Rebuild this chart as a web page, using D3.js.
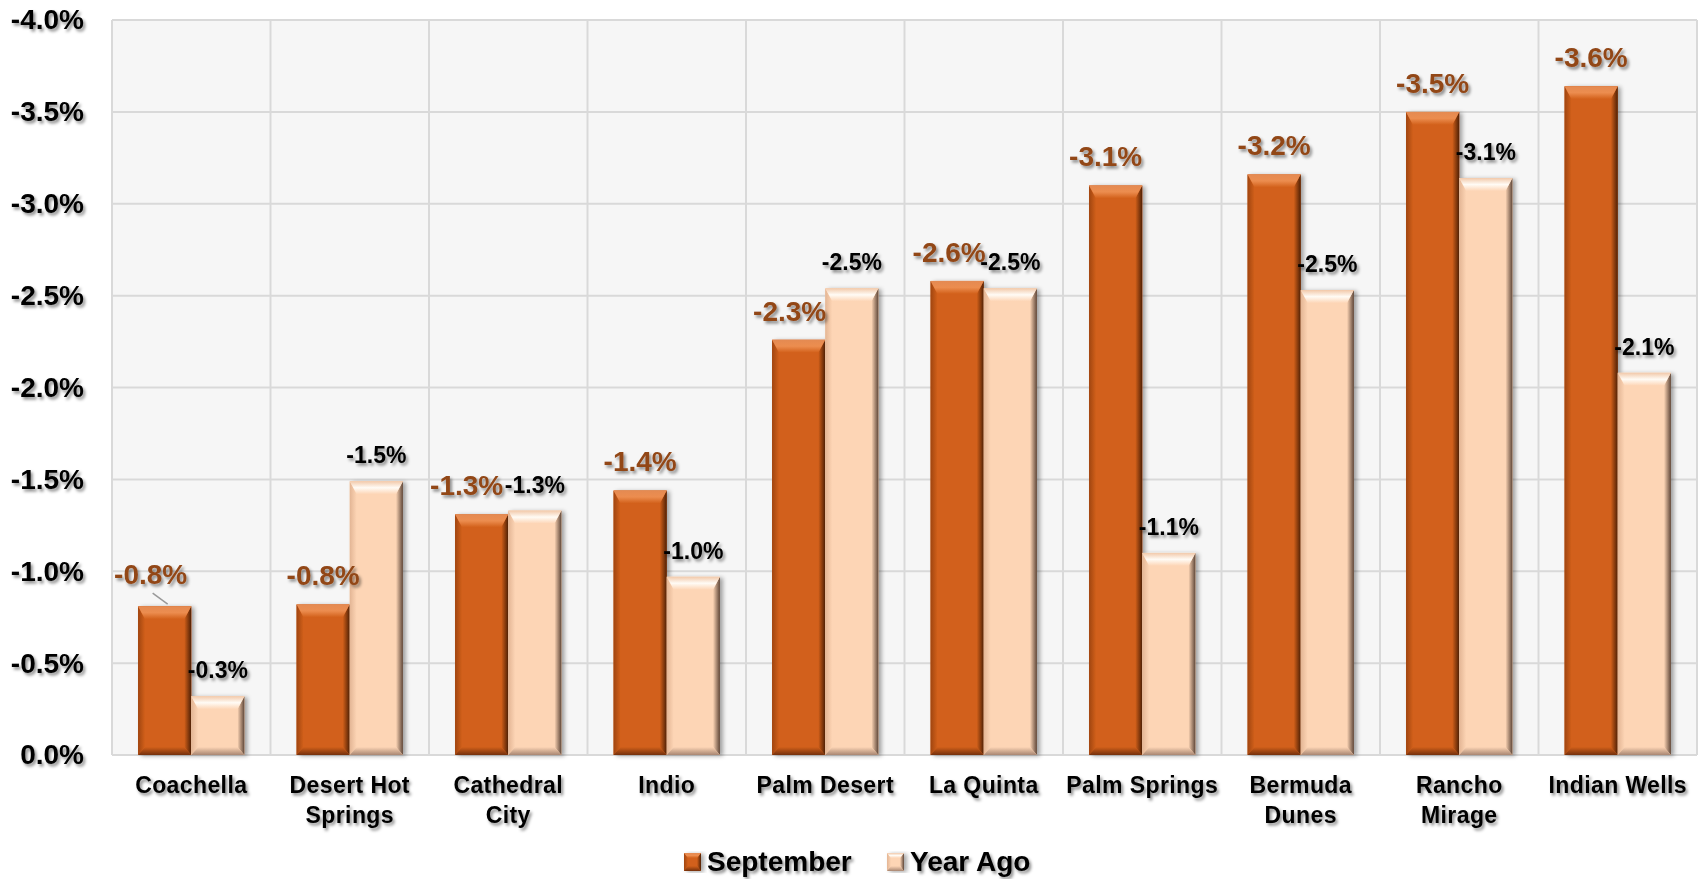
<!DOCTYPE html>
<html lang="en">
<head>
  <meta charset="UTF-8">
  <title>September vs Year Ago</title>
  <style>
    body {
      margin: 0;
      background: #fff;
      overflow: hidden;
    }
    text {
      font-family: "Liberation Sans", Arial, sans-serif;
      font-weight: bold;
    }
  </style>
</head>
<body>
  <script src="https://d3js.org/d3.v7.min.js"></script>
  <script>
    // data
    const categories = ['Coachella', 'Desert Hot Springs', 'Cathedral City', 'Indio', 'Palm Desert',
      'La Quinta', 'Palm Springs', 'Bermuda Dunes', 'Rancho Mirage', 'Indian Wells'];
    const tickLines = [['Coachella'], ['Desert Hot', 'Springs'], ['Cathedral', 'City'], ['Indio'], ['Palm Desert'],
      ['La Quinta'], ['Palm Springs'], ['Bermuda', 'Dunes'], ['Rancho', 'Mirage'], ['Indian Wells']];
    const series = ['September', 'Year Ago'];
    const september = [-0.0081, -0.0082, -0.0131, -0.0144, -0.0226, -0.0258, -0.0310, -0.0316, -0.0350, -0.0364];
    const yearAgo = [-0.0032, -0.0149, -0.0133, -0.0097, -0.0254, -0.0254, -0.0110, -0.0253, -0.0314, -0.0208];
    const yTicks = [0, -0.005, -0.01, -0.015, -0.02, -0.025, -0.03, -0.035, -0.04];

    // label nudges (Excel moved a few labels to avoid overlaps)
    const sepNudge = { 'Coachella': [-14, -3], 'Cathedral City': [-15, 0], 'Palm Desert': [-9, 0], 'La Quinta': [-8, 0], 'Palm Springs': [-10, 0] };
    const leaderFor = ['Coachella'];

    const width = 1701, height = 879;
    const plot = { left: 112, right: 1697, top: 20, bottom: 755 };

    const fmt = d3.formatLocale({ decimal: '.', thousands: ',', grouping: [3], currency: ['$', ''], minus: '-' }).format('.1%');

    const x0 = d3.scaleBand().domain(categories).range([plot.left, plot.right]);
    const x1 = d3.scaleBand().domain(series).range([0, x0.bandwidth()]).paddingInner(0).paddingOuter(0.49);
    const y = d3.scaleLinear().domain([0, -0.04]).range([plot.bottom, plot.top]);

    const palettes = {
      'September': { base: '#d2601a', edge: '#e48a52', hi: '#ec8d4f', right: '#4f2005', bottom: '#74300c', left: '#a04510', label: '#924719', size: 28 },
      'Year Ago': { base: '#fdd5b5', edge: '#f2c9aa', hi: '#fffbf5', right: '#5e4638', bottom: '#a88672', left: '#e3b594', label: '#000', size: 23 }
    };

    const svg = d3.select('body').append('svg')
      .attr('width', width)
      .attr('height', height);

    const defs = svg.append('defs');

    const tshadow = defs.append('filter').attr('id', 'tshadow')
      .attr('x', '-10%').attr('y', '-30%').attr('width', '130%').attr('height', '170%');
    tshadow.append('feDropShadow').attr('dx', 2).attr('dy', 2.5).attr('stdDeviation', 1.4)
      .attr('flood-color', '#000').attr('flood-opacity', 0.45);

    const bshadow = defs.append('filter').attr('id', 'bshadow')
      .attr('x', '-20%').attr('y', '-10%').attr('width', '150%').attr('height', '120%');
    bshadow.append('feDropShadow').attr('dx', 3).attr('dy', 1).attr('stdDeviation', 2)
      .attr('flood-color', '#000').attr('flood-opacity', 0.35);

    function grad(id, x2, y2, stops) {
      const g = defs.append('linearGradient').attr('id', id)
        .attr('x1', 0).attr('y1', 0).attr('x2', x2).attr('y2', y2);
      stops.forEach(s => g.append('stop').attr('offset', s[0]).attr('stop-color', s[1]));
    }

    series.forEach((s, i) => {
      const p = palettes[s];
      grad('top' + i, 0, 1, [[0, p.edge], [0.5, p.hi], [1, p.base]]);
      grad('right' + i, 1, 0, [[0, p.base], [1, p.right]]);
      grad('bottom' + i, 0, 1, [[0, p.base], [1, p.bottom]]);
      grad('left' + i, 1, 0, [[0, p.left], [1, p.base]]);
    });

    // plot area
    svg.append('rect')
      .attr('x', plot.left).attr('y', plot.top)
      .attr('width', plot.right - plot.left).attr('height', plot.bottom - plot.top)
      .attr('fill', '#f6f6f6');

    const grid = svg.append('g').attr('stroke', '#d9d9d9').attr('stroke-width', 2);
    grid.selectAll('.h').data(yTicks).enter().append('line')
      .attr('x1', plot.left).attr('x2', plot.right)
      .attr('y1', d => y(d)).attr('y2', d => y(d));
    grid.selectAll('.v').data(categories.map(c => x0(c)).concat([plot.right])).enter().append('line')
      .attr('x1', d => d).attr('x2', d => d)
      .attr('y1', plot.top).attr('y2', plot.bottom);

    // y axis
    const yAxis = svg.append('g')
      .attr('transform', `translate(${plot.left},0)`)
      .call(d3.axisLeft(y).tickValues(yTicks).tickFormat(fmt).tickSize(0).tickPadding(28));
    yAxis.select('.domain').remove();
    yAxis.selectAll('text')
      .attr('font-size', 28)
      .attr('font-family', '"Liberation Sans", Arial, sans-serif')
      .attr('font-weight', 'bold')
      .attr('fill', '#000')
      .attr('filter', 'url(#tshadow)');

    // x axis
    const xAxis = svg.append('g')
      .attr('transform', `translate(0,${plot.bottom})`)
      .call(d3.axisBottom(x0).tickSize(0));
    xAxis.select('.domain').remove();
    xAxis.selectAll('text').each(function (d) {
      const t = d3.select(this).text(null)
        .attr('y', 38).attr('dy', 0)
        .attr('font-size', 23)
        .attr('letter-spacing', 0.4)
        .attr('font-family', '"Liberation Sans", Arial, sans-serif')
        .attr('font-weight', 'bold')
        .attr('fill', '#000')
        .attr('filter', 'url(#tshadow)');
      tickLines[categories.indexOf(d)].forEach((line, k) => {
        t.append('tspan').attr('x', 0).attr('dy', k === 0 ? 0 : 30).text(line);
      });
    });

    // bevelled bar
    function bevelBar(g, bx, by, bw, bh, i, side, depth) {
      const s = Math.min(side, bw / 4);
      const t = Math.min(depth, bh / 2.5);
      const b = Math.min(side + 1, bh / 3);
      g.append('rect').attr('x', bx).attr('y', by).attr('width', bw).attr('height', bh)
        .attr('fill', palettes[series[i]].base).attr('filter', 'url(#bshadow)');
      const poly = (pts, fill) => g.append('polygon')
        .attr('points', pts.map(p => p.join(',')).join(' ')).attr('fill', fill);
      poly([[bx, by], [bx + s, by + t], [bx + s, by + bh - b], [bx, by + bh]], `url(#left${i})`);
      poly([[bx + bw, by], [bx + bw, by + bh], [bx + bw - s, by + bh - b], [bx + bw - s, by + t]], `url(#right${i})`);
      poly([[bx, by + bh], [bx + s, by + bh - b], [bx + bw - s, by + bh - b], [bx + bw, by + bh]], `url(#bottom${i})`);
      poly([[bx, by], [bx + bw, by], [bx + bw - s, by + t], [bx + s, by + t]], `url(#top${i})`);
    }

    const rows = categories.map((c, k) => ({ cat: c, values: [september[k], yearAgo[k]] }));

    const bars = svg.append('g');
    rows.forEach(r => {
      r.values.forEach((v, i) => {
        const bx = x0(r.cat) + x1(series[i]);
        bevelBar(bars, bx, y(v), x1.bandwidth(), y(0) - y(v), i, 7, 13);
      });
    });

    // data labels, with a leader line where Excel moved one away
    const labels = svg.append('g').attr('text-anchor', 'middle');
    rows.forEach(r => {
      r.values.forEach((v, i) => {
        const cx = x0(r.cat) + x1(series[i]) + x1.bandwidth() / 2;
        const p = palettes[series[i]];
        let dx = 0, dy = 0;
        if (i === 0 && sepNudge[r.cat]) [dx, dy] = sepNudge[r.cat];
        const base = y(v) - (i === 0 ? 19 : 18) + dy;
        if (i === 0 && leaderFor.includes(r.cat)) {
          labels.append('line')
            .attr('x1', cx - 12).attr('y1', base + 9)
            .attr('x2', cx + 3).attr('y2', y(v) - 2)
            .attr('stroke', '#999').attr('stroke-width', 1.5);
        }
        labels.append('text')
          .attr('x', cx + dx).attr('y', base)
          .attr('font-size', p.size)
          .attr('fill', p.label)
          .attr('filter', 'url(#tshadow)')
          .text(fmt(v));
      });
    });

    // legend
    const legend = svg.append('g');
    const legendX = [684, 887];
    series.forEach((s, i) => {
      bevelBar(legend, legendX[i], 853, 17, 18, i, 4, 5);
      legend.append('text')
        .attr('x', legendX[i] + 23).attr('y', 871)
        .attr('font-size', 28)
        .attr('fill', '#000')
        .attr('filter', 'url(#tshadow)')
        .text(s);
    });
  </script>
</body>
</html>
